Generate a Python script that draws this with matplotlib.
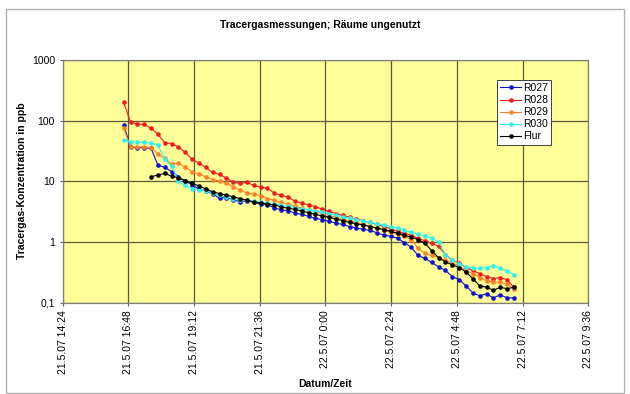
import matplotlib
matplotlib.use("Agg")
import matplotlib.pyplot as plt
import matplotlib.dates as mdates
from matplotlib.patches import Rectangle
from matplotlib.ticker import FixedLocator, FixedFormatter
import numpy as np
import pandas as pd

plt.rcParams['font.family'] = ['Liberation Sans', 'DejaVu Sans']

times = [
    "21.5.07 16:38", "21.5.07 16:53", "21.5.07 17:08", "21.5.07 17:23", "21.5.07 17:38",
    "21.5.07 17:53", "21.5.07 18:08", "21.5.07 18:23", "21.5.07 18:38", "21.5.07 18:53",
    "21.5.07 19:08", "21.5.07 19:23", "21.5.07 19:38", "21.5.07 19:53", "21.5.07 20:08",
    "21.5.07 20:23", "21.5.07 20:38", "21.5.07 20:53", "21.5.07 21:08", "21.5.07 21:23",
    "21.5.07 21:38", "21.5.07 21:53", "21.5.07 22:08", "21.5.07 22:23", "21.5.07 22:38",
    "21.5.07 22:53", "21.5.07 23:08", "21.5.07 23:23", "21.5.07 23:38", "21.5.07 23:53",
    "22.5.07 0:08", "22.5.07 0:23", "22.5.07 0:38", "22.5.07 0:53", "22.5.07 1:08",
    "22.5.07 1:23", "22.5.07 1:38", "22.5.07 1:53", "22.5.07 2:08", "22.5.07 2:23",
    "22.5.07 2:38", "22.5.07 2:53", "22.5.07 3:08", "22.5.07 3:23", "22.5.07 3:38",
    "22.5.07 3:53", "22.5.07 4:08", "22.5.07 4:23", "22.5.07 4:38", "22.5.07 4:53",
    "22.5.07 5:08", "22.5.07 5:23", "22.5.07 5:38", "22.5.07 5:53", "22.5.07 6:08",
    "22.5.07 6:23", "22.5.07 6:38", "22.5.07 6:53",
]

r027 = [85, 37, 36, 36, 35, 18.5, 17, 14.5, 12, 10,
        8.8, 7.4, 7.0, 6.2, 5.3, 5.4, 5.0, 4.6, 4.8, 4.5,
        4.2, 4.1, 3.7, 3.35, 3.3, 3.0, 2.85, 2.65, 2.45, 2.35,
        2.2, 2.05, 1.95, 1.8, 1.7, 1.62, 1.55, 1.42, 1.3, 1.25,
        1.15, 0.98, 0.82, 0.6, 0.54, 0.46, 0.39, 0.34, 0.27, 0.24,
        0.19, 0.145, 0.13, 0.14, 0.12, 0.135, 0.12, 0.12]

r028 = [200, 95, 88, 87, 75, 60, 43, 42, 37, 30,
        23, 20, 17, 14, 13, 11.3, 9.7, 9.3, 9.6, 8.6,
        8.0, 7.7, 6.4, 5.9, 5.5, 4.7, 4.4, 4.1, 3.8, 3.5,
        3.2, 2.95, 2.75, 2.55, 2.4, 2.25, 2.1, 1.95, 1.8, 1.65,
        1.5, 1.4, 1.3, 1.15, 1.05, 0.95, 0.85, 0.62, 0.5, 0.45,
        0.38, 0.34, 0.3, 0.27, 0.25, 0.26, 0.24, 0.18]

r029 = [75, 37, 37, 37, 36, 28, 24, 19, 20, 17,
        14.5, 13, 12, 10.7, 10, 9.5, 8.1, 7.2, 6.4, 6.2,
        5.8, 5.2, 4.9, 4.5, 4.2, 3.9, 3.6, 3.4, 3.2, 2.95,
        2.75, 2.55, 2.4, 2.2, 2.1, 1.95, 1.8, 1.7, 1.58, 1.45,
        1.35, 1.25, 1.1, 0.8, 0.65, 0.6, 0.55, 0.5, 0.45, 0.4,
        0.34, 0.3, 0.26, 0.23, 0.22, 0.22, 0.2, 0.17]

r030 = [48, 45, 44, 44, 43, 40, 23, 18, 10, 8.6,
        7.6, 7.3, 7.0, 6.4, 5.9, 5.5, 5.2, 5.0, 4.9, 4.7,
        4.5, 4.4, 4.2, 4.0, 3.9, 3.7, 3.5, 3.4, 3.25, 3.1,
        2.95, 2.8, 2.6, 2.5, 2.35, 2.25, 2.1, 2.0, 1.9, 1.8,
        1.7, 1.55, 1.45, 1.35, 1.25, 1.15, 1.0, 0.62, 0.5, 0.44,
        0.39, 0.37, 0.37, 0.38, 0.41, 0.37, 0.33, 0.29]

flur = [np.nan, np.nan, np.nan, np.nan, 11.9, 12.7, 13.5, 12.2, 11.4, 10.2,
        9.3, 8.4, 7.5, 6.7, 6.3, 5.9, 5.6, 5.2, 4.9, 4.6,
        4.4, 4.2, 4.1, 3.8, 3.6, 3.45, 3.25, 3.05, 2.85, 2.7,
        2.55, 2.4, 2.25, 2.1, 2.0, 1.9, 1.8, 1.7, 1.6, 1.5,
        1.4, 1.3, 1.2, 1.1, 0.95, 0.72, 0.55, 0.47, 0.42, 0.38,
        0.32, 0.25, 0.19, 0.18, 0.16, 0.18, 0.17, 0.18]

series_names = ["R027", "R028", "R029", "R030", "Flur"]
series_values = [r027, r028, r029, r030, flur]
series_colors = ["#1010d0", "#ee1c1c", "#ff7f27", "#33f0f0", "#000000"]

x_tick_labels = ["21.5.07 14:24", "21.5.07 16:48", "21.5.07 19:12", "21.5.07 21:36",
                 "22.5.07 0:00", "22.5.07 2:24", "22.5.07 4:48", "22.5.07 7:12",
                 "22.5.07 9:36"]
y_ticks = [0.1, 1, 10, 100, 1000]
y_tick_labels = ["0,1", "1", "10", "100", "1000"]

t = pd.to_datetime(times, format="%d.%m.%y %H:%M")
xt = pd.to_datetime(x_tick_labels, format="%d.%m.%y %H:%M")

W, H = 630, 394
fig = plt.figure(figsize=(W / 100, H / 100), dpi=100)
fig.patch.set_facecolor("white")
fig.add_artist(Rectangle((6 / W, 1 / H), 618 / W, 1 - 10 / H, transform=fig.transFigure,
                         fill=False, edgecolor="#b0b0b0", linewidth=1.0))

ax = fig.add_axes([62.5 / W, 1 - 302.7 / H, (588.3 - 62.5) / W, (302.7 - 60) / H])
ax.set_facecolor("#ffff99")
ax.set_yscale("log")
ax.set_ylim(0.1, 1000)
ax.set_xlim(mdates.date2num(xt[0]), mdates.date2num(xt[-1]))

for name, vals, col in zip(series_names, series_values, series_colors):
    ax.plot(t, vals, color=col, marker="o", markersize=3.3, linewidth=0.8,
            markeredgewidth=0, label=name)

ax.xaxis.set_major_locator(FixedLocator(mdates.date2num(xt)))
ax.xaxis.set_major_formatter(FixedFormatter(x_tick_labels))
ax.xaxis.set_minor_locator(FixedLocator([]))
ax.yaxis.set_major_locator(FixedLocator(y_ticks))
ax.yaxis.set_major_formatter(FixedFormatter(y_tick_labels))
ax.yaxis.set_minor_locator(FixedLocator([]))

ax.grid(True, which="major", color="#5a5a40", linewidth=0.9)
ax.set_axisbelow(True)
for s in ax.spines.values():
    s.set_color("#808080")
    s.set_linewidth(0.9)

ax.tick_params(axis="x", labelrotation=90, labelsize=7.5, direction="inout", length=5,
               color="#606060", pad=3)
ax.tick_params(axis="y", labelsize=7.5, direction="inout", length=5, color="#606060", pad=3)

fig.text(320 / W, 1 - 25 / H, "Tracergasmessungen; Räume ungenutzt", ha="center", va="center",
         fontsize=7.5, fontweight="bold")
fig.text(325 / W, 1 - 384 / H, "Datum/Zeit", ha="center", va="center",
         fontsize=7.5, fontweight="bold")
fig.text(22 / W, 1 - 181 / H, "Tracergas-Konzentration in ppb", ha="center", va="center",
         rotation=90, fontsize=7.5, fontweight="bold")

leg = ax.legend(loc="upper left", bbox_to_anchor=(497 / W, 1 - 80 / H),
                bbox_transform=fig.transFigure, fontsize=7.5, frameon=True, fancybox=False,
                borderpad=0.3, labelspacing=0.2, handlelength=2.0, handletextpad=0.2,
                borderaxespad=0)
leg.get_frame().set_edgecolor("#404040")
leg.get_frame().set_linewidth(0.7)
leg.get_frame().set_alpha(1)

fig.savefig("out.png", dpi=100)
